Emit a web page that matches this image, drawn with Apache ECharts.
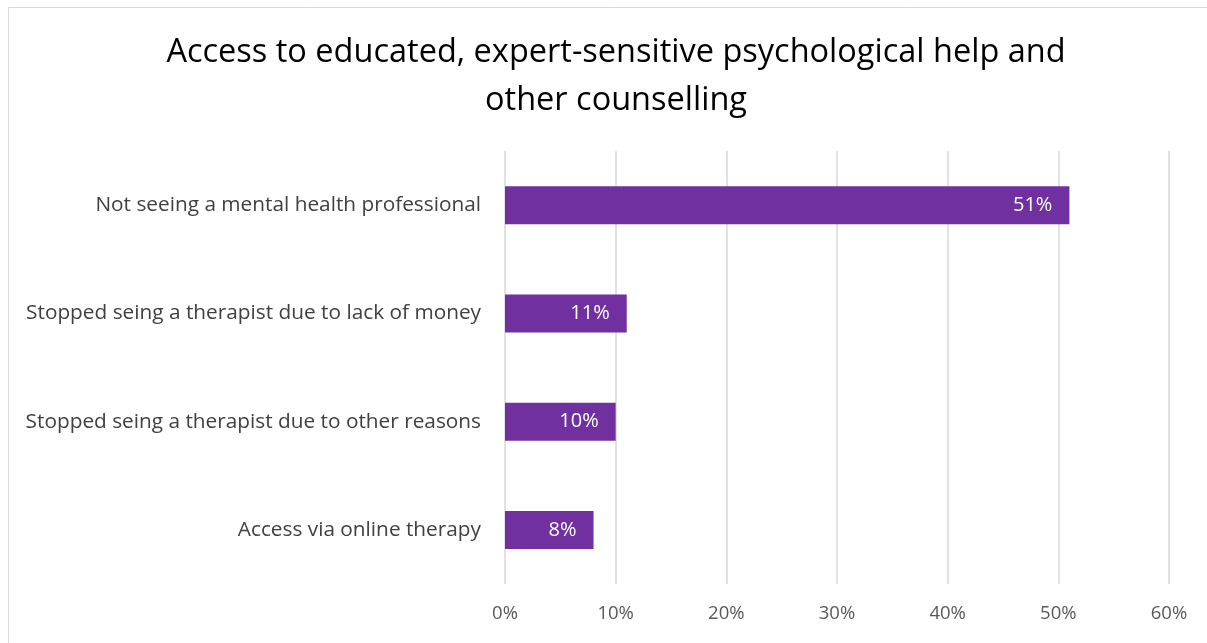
<!DOCTYPE html>
<html><head><meta charset="utf-8">
<script src="https://cdn.jsdelivr.net/npm/echarts@6/dist/echarts.min.js"></script>
<style>html,body{margin:0;padding:0;background:#fff}#c{width:1207px;height:643px}</style>
</head><body><div id="c"></div>
<script>
const categories = ["Not seeing a mental health professional","Stopped seing a therapist due to lack of money","Stopped seing a therapist due to other reasons","Access via online therapy"];
const values = [51, 11, 10, 8];
const xTicks = [0, 10, 20, 30, 40, 50, 60];

const chart = echarts.init(document.getElementById('c'));
const font = "'Open Sans', 'Noto Sans', sans-serif";
chart.setOption({
  animation: false,
  graphic: [{type:'rect', shape:{x:8.5,y:7.5,width:1300,height:700}, style:{fill:'none',stroke:'#d9d9d9',lineWidth:1}}],
  title: {
    text: "Access to educated, expert-sensitive psychological help and\nother counselling",
    left: 611, top: 24, textAlign: 'center',
    padding: 5,
    textStyle: {fontFamily: font, fontSize: 32.5, fontWeight: 'normal', color: '#000', lineHeight: 48}
  },
  grid: {left: 505, right: 38, top: 151, bottom: 59},
  xAxis: {
    type: 'value', min: xTicks[0], max: xTicks[xTicks.length-1], interval: 10,
    axisLabel: {formatter: v => v + '%', fontFamily: font, fontSize: 18.5, color: '#595959', margin: 20},
    axisLine: {show: false}, axisTick: {show: false},
    splitLine: {lineStyle: {color: '#d9d9d9', width: 1.5}}
  },
  yAxis: {
    type: 'category', data: categories, inverse: true,
    axisLabel: {fontFamily: font, fontSize: 20.8, color: '#404040', margin: 24},
    axisLine: {show: false}, axisTick: {show: false}
  },
  series: [{
    type: 'bar', data: values, barWidth: 38,
    itemStyle: {color: '#7030A0'},
    label: {show: true, position: 'insideRight', formatter: p => p.value + '%', color: '#fff', fontFamily: font, fontSize: 20, distance: 17}
  }]
});
</script></body></html>
